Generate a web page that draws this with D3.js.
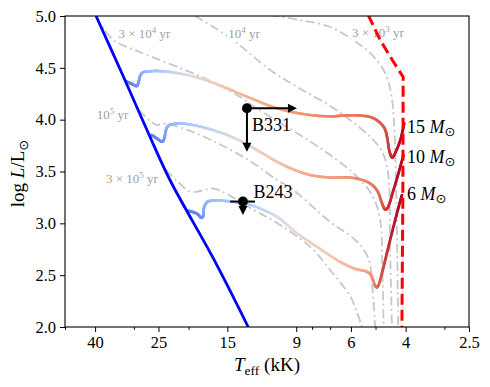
<!DOCTYPE html>
<html>
<head>
<meta charset="utf-8">
<script src="https://cdn.jsdelivr.net/npm/d3@7"></script>
<style>
  body { margin: 0; background: #fff; }
  svg text { font-family: 'Liberation Serif', 'DejaVu Serif', serif; }
</style>
</head>
<body>
<svg id="chart" width="490" height="387"></svg>
<script>
// x values are log10(Teff / K), y values are log10(L / Lsun)
const xTicksKK = [40, 25, 15, 9, 6, 4, 2.5]
const xTickLabels = ['40', '25', '15', '9', '6', '4', '2.5']
const xMinorKK = [50, 30, 20, 8, 7, 5, 3]
const yTicks = [2.0, 2.5, 3.0, 3.5, 4.0, 4.5, 5.0]

// zero-age main sequence (blue) and Hayashi limit (red dashed)
const zams = [[4.599, 5.0], [4.506, 4.383], [4.435, 3.9], [4.361, 3.418], [4.222, 2.666], [4.109, 2.0]]
const hayashi = [[3.7225, 5.01], [3.684, 4.768], [3.645, 4.576], [3.61, 4.412], [3.611, 3.225], [3.614, 2.0]]

// tracks: [logT, logL, normalised age]
const track15 = [
  [4.5, 4.366, 0.12], [4.483, 4.344, 0.13], [4.468, 4.325, 0.15], [4.462, 4.363, 0.18],
  [4.457, 4.421, 0.22], [4.447, 4.457, 0.26], [4.425, 4.467, 0.3], [4.393, 4.469, 0.33],
  [4.339, 4.45, 0.42], [4.264, 4.399, 0.55], [4.19, 4.318, 0.62], [4.113, 4.222, 0.67],
  [4.038, 4.132, 0.71], [3.974, 4.077, 0.74], [3.909, 4.045, 0.77], [3.845, 4.031, 0.8],
  [3.803, 4.04, 0.81], [3.748, 4.04, 0.83], [3.705, 4.013, 0.86], [3.673, 3.932, 0.89],
  [3.662, 3.836, 0.91], [3.655, 3.707, 0.93], [3.646, 3.637, 0.95], [3.636, 3.676, 0.97],
  [3.619, 3.804, 0.99], [3.6065, 3.965, 1.0]
]
const track10 = [
  [4.42, 3.852, 0.12], [4.403, 3.818, 0.13], [4.387, 3.788, 0.15], [4.38, 3.814, 0.18],
  [4.375, 3.881, 0.22], [4.37, 3.929, 0.25], [4.355, 3.955, 0.28], [4.318, 3.963, 0.31],
  [4.242, 3.917, 0.38], [4.157, 3.828, 0.48], [4.081, 3.707, 0.57], [4.017, 3.595, 0.63],
  [3.963, 3.519, 0.67], [3.909, 3.466, 0.71], [3.845, 3.442, 0.74], [3.781, 3.442, 0.77],
  [3.727, 3.402, 0.8], [3.695, 3.322, 0.84], [3.678, 3.193, 0.88], [3.668, 3.135, 0.91],
  [3.657, 3.167, 0.94], [3.641, 3.322, 0.97], [3.625, 3.483, 0.99], [3.609, 3.659, 1.0]
]
const track6 = [
  [4.302, 3.122, 0.12], [4.275, 3.095, 0.13], [4.261, 3.056, 0.15], [4.254, 3.071, 0.18],
  [4.253, 3.129, 0.22], [4.246, 3.187, 0.25], [4.232, 3.216, 0.28], [4.189, 3.218, 0.31],
  [4.103, 3.177, 0.36], [4.017, 3.064, 0.46], [3.952, 2.904, 0.53], [3.888, 2.775, 0.58],
  [3.823, 2.646, 0.63], [3.77, 2.566, 0.68], [3.727, 2.534, 0.72], [3.711, 2.485, 0.76],
  [3.7, 2.396, 0.82], [3.689, 2.405, 0.86], [3.673, 2.582, 0.92], [3.652, 2.839, 0.96],
  [3.63, 3.097, 0.99], [3.614, 3.273, 1.0]
]
const trackMasses = ['15', '10', '6']
const trackLabelPos = [[3.598, 3.869], [3.598, 3.579], [3.598, 3.225]]

// isochrones
const iso3e3 = [[4.038, 5.01], [3.942, 4.961], [3.845, 4.894], [3.771, 4.768], [3.716, 4.643],
  [3.668, 4.45], [3.648, 4.238], [3.639, 3.949], [3.632, 3.225], [3.626, 2.0]]
const iso1e4 = [[4.28, 5.0], [4.167, 4.788], [4.038, 4.479], [3.951, 4.315], [3.845, 4.132],
  [3.781, 3.997], [3.716, 3.833], [3.677, 3.688], [3.658, 3.466], [3.652, 2.743], [3.646, 2.0]]
const iso3e4 = [[4.599, 5.0], [4.583, 4.913], [4.564, 4.836], [4.544, 4.768], [4.522, 4.73],
  [4.473, 4.672], [4.435, 4.624], [4.328, 4.498], [4.222, 4.363], [4.135, 4.219], [4.084, 4.113],
  [3.942, 3.852], [3.845, 3.659], [3.764, 3.466], [3.71, 3.273], [3.684, 3.032], [3.677, 2.55], [3.673, 2.0]]
const iso1e5 = [[4.461, 4.093], [4.425, 3.987], [4.403, 3.949], [4.377, 3.963], [4.296, 3.891],
  [4.209, 3.775], [4.103, 3.601], [4.016, 3.418], [3.964, 3.322], [3.845, 3.013], [3.764, 2.839],
  [3.7225, 2.666], [3.71, 2.405], [3.7, 2.0]]
const iso3e5 = [[4.374, 3.515], [4.338, 3.408], [4.296, 3.305], [4.264, 3.312], [4.222, 3.336],
  [4.177, 3.283], [4.103, 3.148], [4.016, 3.003], [3.909, 2.772], [3.845, 2.55], [3.781, 2.299],
  [3.761, 2.164], [3.743, 2.0]]
const isoMantissa = ['3 \u00d7 10', '10', '3 \u00d7 10', '10', '3 \u00d7 10']
const isoExponent = ['3', '4', '4', '5', '5']
const isoLabelPos = [[3.775, 4.797], [4.173, 4.787], [4.527, 4.787], [4.597, 4.006], [4.567, 3.389]]

// observed sources
const sourceNames = ['B331', 'B243']
const sourceLogT = [4.113, 4.126]
const sourceLogL = [4.11, 3.21]
const sourceLogTErr = [null, [4.167, 4.087]]
const sourceLogTLimit = [3.952, null]
const sourceLogLLimit = [3.691, 3.08]

const W = 490, H = 387
const margin = { left: 65, right: 21, top: 16, bottom: 60 }
const svg = d3.select('#chart')

const x = d3.scaleLinear()
  .domain([Math.log10(50000), Math.log10(2500)])
  .range([margin.left, W - margin.right])
const y = d3.scaleLinear().domain([2, 5]).range([H - margin.bottom, margin.top])

const coolwarm = d3.scaleLinear()
  .domain(d3.range(11).map((i) => i / 10))
  .range(['#3b4cc0', '#5b7ae5', '#7b9ff9', '#9ebeff', '#c0d4f5', '#dddcdc',
    '#f2cbb7', '#f7ac8e', '#ee8468', '#d65244', '#b40426'])

svg.append('clipPath').attr('id', 'plotclip')
  .append('rect')
  .attr('x', x.range()[0]).attr('y', y.range()[1])
  .attr('width', x.range()[1] - x.range()[0])
  .attr('height', y.range()[0] - y.range()[1])

const plot = svg.append('g').attr('clip-path', 'url(#plotclip)')

// isochrones
const isoLine = d3.line().x((d) => x(d[0])).y((d) => y(d[1])).curve(d3.curveCatmullRom.alpha(0.5))
plot.append('g')
  .selectAll('path')
  .data([iso3e3, iso1e4, iso3e4, iso1e5, iso3e5])
  .join('path')
  .attr('d', isoLine)
  .attr('fill', 'none')
  .attr('stroke', '#c8c8c8')
  .attr('stroke-width', 1.8)
  .attr('stroke-dasharray', '9,3.5,2,3.5')

// isochrone labels with white box
const isoG = plot.append('g')
isoLabelPos.forEach((p, i) => {
  const lg = isoG.append('g')
  const t = lg.append('text')
    .attr('x', x(p[0])).attr('y', y(p[1]))
    .attr('font-size', '13px').attr('fill', '#a0a0a0')
  t.append('tspan').text(isoMantissa[i])
  t.append('tspan').attr('dy', -5).attr('font-size', '9px').text(isoExponent[i])
  t.append('tspan').attr('dy', 5).text(' yr')
  const bb = t.node().getBBox()
  lg.insert('rect', 'text')
    .attr('x', bb.x - 1).attr('y', bb.y).attr('width', bb.width + 2).attr('height', bb.height)
    .attr('fill', '#fff')
})

// evolutionary tracks coloured by age
function catmull(p0, p1, p2, p3, t) {
  return 0.5 * (2 * p1 + (-p0 + p2) * t + (2 * p0 - 5 * p1 + 4 * p2 - p3) * t * t +
    (-p0 + 3 * p1 - 3 * p2 + p3) * t * t * t)
}

function densify(pts, steps) {
  let out = []
  let n = pts.length
  for (let i = 0; i < n - 1; i++) {
    let p0 = pts[Math.max(i - 1, 0)], p1 = pts[i], p2 = pts[i + 1], p3 = pts[Math.min(i + 2, n - 1)]
    for (let s = 0; s < steps; s++) {
      let t = s / steps
      out.push([catmull(p0[0], p1[0], p2[0], p3[0], t), catmull(p0[1], p1[1], p2[1], p3[1], t),
        p1[2] + (p2[2] - p1[2]) * t])
    }
  }
  out.push(pts[n - 1])
  return out
}

;[track15, track10, track6].forEach((track) => {
  let px = track.map((d) => [x(d[0]), y(d[1]), d[2]])
  let segs = d3.pairs(densify(px, 10))
  plot.append('g')
    .selectAll('line')
    .data(segs)
    .join('line')
    .attr('x1', (d) => d[0][0]).attr('y1', (d) => d[0][1])
    .attr('x2', (d) => d[1][0]).attr('y2', (d) => d[1][1])
    .attr('stroke', (d) => coolwarm((d[0][2] + d[1][2]) / 2))
    .attr('stroke-width', 2.7)
    .attr('stroke-linecap', 'round')
})

// ZAMS and Hayashi line
plot.append('path')
  .datum(zams)
  .attr('d', d3.line().x((d) => x(d[0])).y((d) => y(d[1])).curve(d3.curveCatmullRom.alpha(0.5)))
  .attr('fill', 'none').attr('stroke', '#0000ff').attr('stroke-width', 2.8)

plot.append('path')
  .datum(hayashi)
  .attr('d', d3.line().x((d) => x(d[0])).y((d) => y(d[1])))
  .attr('fill', 'none').attr('stroke', '#ff0000').attr('stroke-width', 3)
  .attr('stroke-dasharray', '11,5')

// mass labels
trackMasses.forEach((m, i) => {
  const t = svg.append('text')
    .attr('x', x(trackLabelPos[i][0])).attr('y', y(trackLabelPos[i][1]))
    .attr('font-size', '18px').attr('fill', '#000')
  t.append('tspan').text(m + ' ')
  t.append('tspan').attr('font-style', 'italic').text('M')
  t.append('tspan').attr('dy', 3).attr('font-size', '13px')
    .style('font-family', 'DejaVu Sans').text('\u2299')
})

// sources with limits
const src = svg.append('g')
sourceNames.forEach((name, i) => {
  const cx = x(sourceLogT[i]), cy = y(sourceLogL[i])
  if (sourceLogTErr[i]) {
    src.append('line')
      .attr('x1', x(sourceLogTErr[i][0])).attr('x2', x(sourceLogTErr[i][1]))
      .attr('y1', cy).attr('y2', cy)
      .attr('stroke', '#000').attr('stroke-width', 2)
  }
  if (sourceLogTLimit[i] !== null) {
    const tip = x(sourceLogTLimit[i])
    src.append('line')
      .attr('x1', cx).attr('x2', tip - 8).attr('y1', cy).attr('y2', cy)
      .attr('stroke', '#000').attr('stroke-width', 2)
    src.append('path')
      .attr('d', `M${tip},${cy}L${tip - 9},${cy - 4.5}L${tip - 9},${cy + 4.5}Z`)
      .attr('fill', '#000')
  }
  if (sourceLogLLimit[i] !== null) {
    const tip = y(sourceLogLLimit[i])
    src.append('line')
      .attr('x1', cx).attr('x2', cx).attr('y1', cy).attr('y2', tip - 8)
      .attr('stroke', '#000').attr('stroke-width', 2)
    src.append('path')
      .attr('d', `M${cx},${tip}L${cx - 4.5},${tip - 9}L${cx + 4.5},${tip - 9}Z`)
      .attr('fill', '#000')
  }
  src.append('circle').attr('cx', cx).attr('cy', cy).attr('r', 5).attr('fill', '#000')
})
svg.append('text')
  .attr('x', x(sourceLogT[0]) + 5).attr('y', y(sourceLogL[0]) + 22.4)
  .attr('font-size', '18px').text(sourceNames[0])
svg.append('text')
  .attr('x', x(sourceLogT[1]) + 10.6).attr('y', y(sourceLogL[1]) - 3.4)
  .attr('font-size', '18px').text(sourceNames[1])

// axes
const xAxis = d3.axisBottom(x)
  .tickValues(xTicksKK.map((t) => Math.log10(t * 1000)))
  .tickFormat((d, i) => xTickLabels[i])
  .tickSize(5).tickPadding(4)
const gx = svg.append('g')
  .attr('transform', `translate(0,${y.range()[0]})`)
  .call(xAxis)
gx.select('.domain').remove()
gx.selectAll('text').attr('font-size', '16.5px').attr('font-family', null)

const gxm = svg.append('g')
  .attr('transform', `translate(0,${y.range()[0]})`)
  .call(d3.axisBottom(x).tickValues(xMinorKK.map((t) => Math.log10(t * 1000))).tickFormat('').tickSize(2.8))
gxm.select('.domain').remove()

const gy = svg.append('g')
  .attr('transform', `translate(${x.range()[0]},0)`)
  .call(d3.axisLeft(y).tickValues(yTicks).tickFormat(d3.format('.1f')).tickSize(5).tickPadding(4))
gy.select('.domain').remove()
gy.selectAll('text').attr('font-size', '16.5px').attr('font-family', null)

svg.append('rect')
  .attr('x', x.range()[0]).attr('y', y.range()[1])
  .attr('width', x.range()[1] - x.range()[0])
  .attr('height', y.range()[0] - y.range()[1])
  .attr('fill', 'none').attr('stroke', '#000').attr('stroke-width', 1.1)

// axis titles
const xl = svg.append('text')
  .attr('x', (x.range()[0] + x.range()[1]) / 2).attr('y', 371)
  .attr('text-anchor', 'middle').attr('font-size', '19px')
xl.append('tspan').attr('font-style', 'italic').text('T')
xl.append('tspan').attr('dy', 3.5).attr('font-size', '13.5px').text('eff')
xl.append('tspan').attr('dy', -3.5).text(' (kK)')

const yl = svg.append('text')
  .attr('transform', `translate(24,${(y.range()[0] + y.range()[1]) / 2 + 2}) rotate(-90)`)
  .attr('text-anchor', 'middle').attr('font-size', '19px')
yl.append('tspan').text('log ')
yl.append('tspan').attr('font-style', 'italic').text('L')
yl.append('tspan').text('/L')
yl.append('tspan').attr('dy', 3.5).attr('font-size', '13px')
  .style('font-family', 'DejaVu Sans').text('\u2299')
</script>
</body>
</html>
